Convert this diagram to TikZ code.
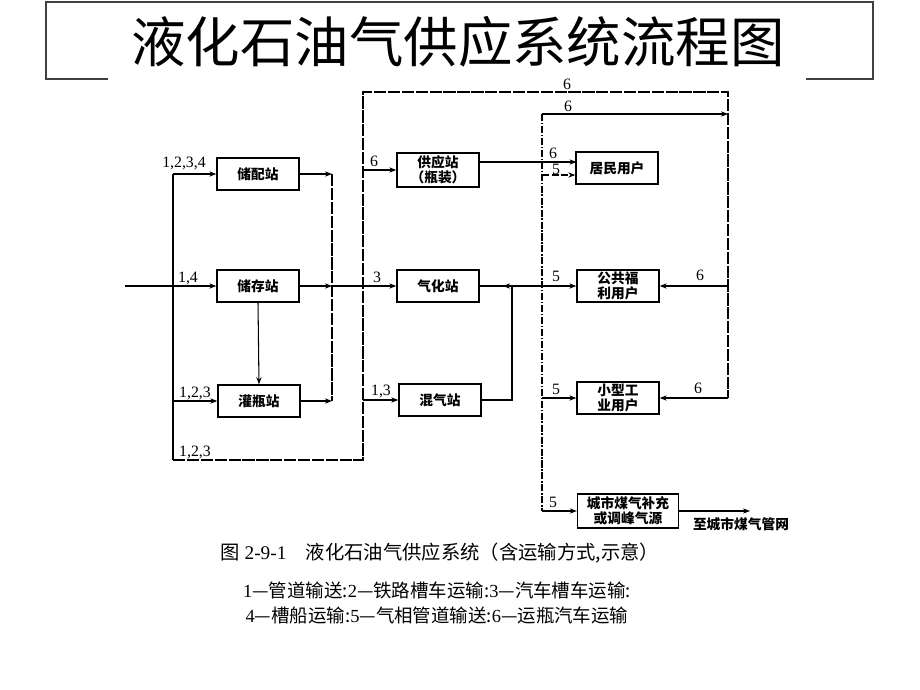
\documentclass[tikz,border=0pt]{standalone}
\usepackage{fontspec}
\setmainfont{Liberation Serif}
\newfontfamily\cjk{Noto Sans CJK SC}
\usetikzlibrary{arrows.meta}
\newcommand\rmn[1]{{\rmfamily #1}}
\begin{document}
\begin{tikzpicture}[x=0.02cm,y=-0.02cm,
  box/.style={draw, line width=0.8pt, minimum width=1.64cm, minimum height=0.64cm, inner sep=0pt, align=center, font=\cjk\bfseries\fontsize{7.8}{8.6}\selectfont},
  ln/.style={line width=0.6pt},
  arr/.style={ln, -{Stealth[length=4pt,width=3pt]}},
  dl/.style={ln, dash pattern=on 7pt off 0.9pt},
  ddl/.style={ln, dash pattern=on 4pt off 1pt on 0.8pt off 1pt},
  num/.style={font=\fontsize{9}{10}\selectfont, inner sep=0pt},
  captxt/.style={font=\cjk\fontsize{10.5}{12}\selectfont, inner sep=0pt}
]
\useasboundingbox (0,0) rectangle (920,690);
% title frame
\coordinate (f1) at (108,79); \coordinate (f2) at (46,79); \coordinate (f3) at (46,2);
\coordinate (f4) at (873,2); \coordinate (f5) at (873,79); \coordinate (f6) at (806,79);
\draw[line width=1pt, black!75] (f1) -- (f2) -- (f3) -- (f4) -- (f5) -- (f6);
\node[font=\cjk\fontsize{31}{36}\selectfont] (title) at (458,42) {液化石油气供应系统流程图};

% boxes
\node[box] (cp) at (258,174) {储配站};
\node[box] (cc) at (258,286) {储存站};
\node[box] (gp) at (259,401) {灌瓶站};
\node[box, minimum height=0.68cm] (gy) at (438,170) {供应站\\（瓶装）};
\node[box] (qh) at (438,286) {气化站};
\node[box] (hq) at (440,400) {混气站};
\node[box] (jm) at (617,168) {居民用户};
\node[box] (gg) at (618,286) {公共福\\利用户};
\node[box] (xx) at (618,398) {小型工\\业用户};
\node[box, minimum width=2.02cm, minimum height=0.68cm] (cs) at (628,511) {城市煤气补充\\或调峰气源};

% coordinates
\coordinate (in) at (125,286);
\coordinate (L1) at (173,174); \coordinate (L3) at (173,401); \coordinate (L4) at (173,460);
\coordinate (J1) at (332,174); \coordinate (J2) at (332,286); \coordinate (J3) at (332,401);
\coordinate (M0) at (363,92); \coordinate (M1) at (363,170); \coordinate (M3) at (363,400); \coordinate (M4) at (363,460);
\coordinate (T1) at (728,92); \coordinate (R0) at (728,114); \coordinate (R1) at (728,286); \coordinate (R2) at (728,398);
\coordinate (S0) at (542,114); \coordinate (S1) at (542,175); \coordinate (S3) at (542,398); \coordinate (S4) at (542,511);
\coordinate (K0) at (503,286); \coordinate (K1) at (512,286); \coordinate (K2) at (512,400);
\coordinate (P6) at (576.5,162);
\coordinate (out) at (750,511);

% connectors
\draw[arr] (in) -- (cc.west);
\draw[ln] (L1) -- (L4);
\draw[arr] (L1) -- (cp.west);
\draw[arr] (L3) -- (gp.west);
\draw[dl] (L4) -- (M4) -- (M0) -- (T1) -- (R2);
\draw[arr] (cc.south) -- (gp.north);
\draw[arr] (cp.east) -- (J1);
\draw[dl] (J1) -- (J3);
\draw[arr] (gp.east) -- (J3);
\draw[arr] (cc.east) -- (J2);
\draw[arr] (J2) -- (qh.west);
\draw[arr] (M1) -- (gy.west);
\draw[arr] (M3) -- (hq.west);
\draw[arr] (gy.east |- P6) -- (P6);
\draw[ddl] (S0) -- (S4);
\draw[arr] (S0) -- (R0);
\draw[arr, dash pattern=on 4pt off 1.5pt] (S1) -- (jm.west |- S1);
\draw[arr] (qh.east) -- (gg.west);
\draw[arr] (K1) -- (K0);
\draw[ln] (hq.east) -- (K2) -- (K1);
\draw[arr] (S3) -- (xx.west);
\draw[arr] (S4) -- (cs.west);
\draw[arr] (cs.east) -- (out);
\draw[arr] (R1) -- (gg.east);
\draw[arr] (R2) -- (xx.east);

% labels
\node[num] (n1) at (184,163) {1,2,3,4};
\node[num] (n2) at (188,278) {1,4};
\node[num] (n3) at (195,393) {1,2,3};
\node[num] (n4) at (195,452) {1,2,3};
\node[num] (n5) at (377,277) {3};
\node[num] (n6) at (374,161) {6};
\node[num] (n7) at (381,391) {1,3};
\node[num] (n8) at (567,84) {6};
\node[num] (n9) at (568,106) {6};
\node[num] (n10) at (553,153) {6};
\node[num] (n11) at (556,169) {5};
\node[num] (n12) at (556,276) {5};
\node[num] (n13) at (556,389) {5};
\node[num] (n14) at (553,502) {5};
\node[num] (n15) at (700,275) {6};
\node[num] (n16) at (698,388) {6};
\node[font=\cjk\bfseries\fontsize{7.8}{9}\selectfont, inner sep=0pt] (to) at (741,524) {至城市煤气管网};

% caption
\node[captxt, font=\cjk\fontsize{11}{12}\selectfont] (c1) at (440,553) {图 \rmn{2-9-1}\quad 液化石油气供应系统（含运输方式,示意）};
\node[captxt] (c2) at (437,590) {\rmn{1}—管道输送:\rmn{2}—铁路槽车运输:\rmn{3}—汽车槽车运输:};
\node[captxt] (c3) at (437,615) {\rmn{4}—槽船运输:\rmn{5}—气相管道输送:\rmn{6}—运瓶汽车运输};
\end{tikzpicture}
\end{document}
